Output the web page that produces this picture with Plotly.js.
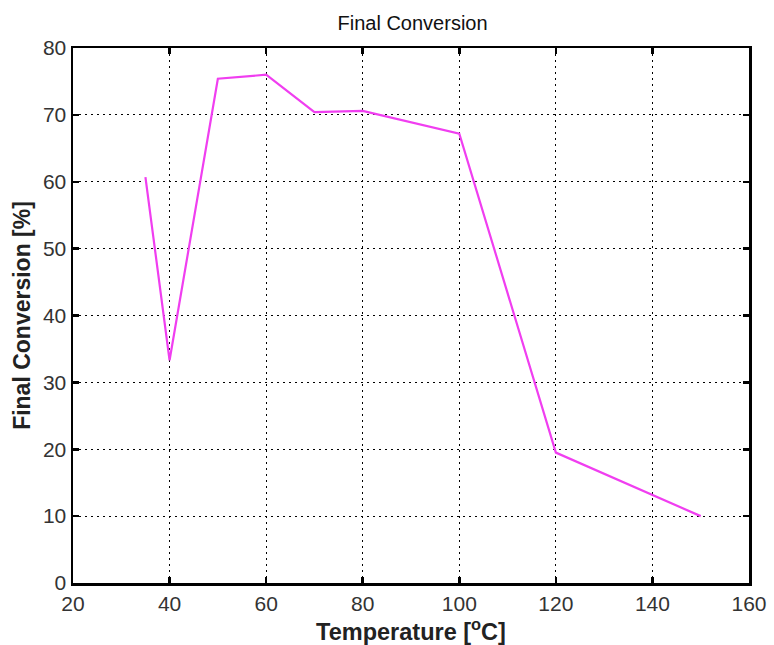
<!DOCTYPE html>
<html>
<head>
<meta charset="utf-8">
<script src="https://cdn.plot.ly/plotly-3.0.1.min.js"></script>
<style>html,body{margin:0;padding:0;background:#fff;}</style>
</head>
<body>
<div id="chart" style="width:774px;height:645px;"></div>
<script>
const temperature = [35, 40, 50, 60, 70, 80, 100, 120, 150];
const conversion = [60.7, 33.3, 75.4, 76.0, 70.4, 70.6, 67.2, 19.5, 10.0];
const xTicks = [20, 40, 60, 80, 100, 120, 140, 160];
const yTicks = [0, 10, 20, 30, 40, 50, 60, 70, 80];

const trace = {
  x: temperature,
  y: conversion,
  type: 'scatter',
  mode: 'lines',
  line: {color: '#f03ef0', width: 2.2},
  hoverinfo: 'skip'
};

const axisCommon = {
  showline: true,
  linecolor: '#000',
  linewidth: 2.5,
  mirror: 'allticks',
  ticks: 'inside',
  ticklen: 6,
  tickwidth: 2.5,
  tickcolor: '#000',
  showgrid: true,
  gridcolor: '#000',
  gridwidth: 1,
  griddash: '2px,4px',
  zeroline: false,
  tickfont: {family: 'Liberation Sans, Arial, sans-serif', size: 21, color: '#333'}
};

const layout = {
  width: 774,
  height: 645,
  margin: {l: 73, r: 25, t: 48, b: 62},
  paper_bgcolor: '#fff',
  plot_bgcolor: '#fff',
  showlegend: false,
  title: {
    text: 'Final Conversion',
    font: {family: 'Liberation Sans, Arial, sans-serif', size: 20, color: '#111'},
    x: 0.533, xanchor: 'center', y: 0.964, yanchor: 'middle'
  },
  xaxis: Object.assign({}, axisCommon, {
    range: [20, 160],
    tickvals: xTicks,
    ticktext: xTicks.map(String),
    title: {
      text: '<b>Temperature [<sup>o</sup>C]</b>',
      font: {family: 'Liberation Sans, Arial, sans-serif', size: 23.5, color: '#222'},
      standoff: 1
    }
  }),
  yaxis: Object.assign({}, axisCommon, {
    range: [0, 80],
    tickvals: yTicks,
    ticktext: yTicks.map(String),
    title: {
      text: '<b>Final Conversion [%]</b>',
      font: {family: 'Liberation Sans, Arial, sans-serif', size: 23, color: '#222'},
      standoff: 6
    }
  })
};

Plotly.newPlot('chart', [trace], layout, {displayModeBar: false, staticPlot: true});
</script>
</body>
</html>
